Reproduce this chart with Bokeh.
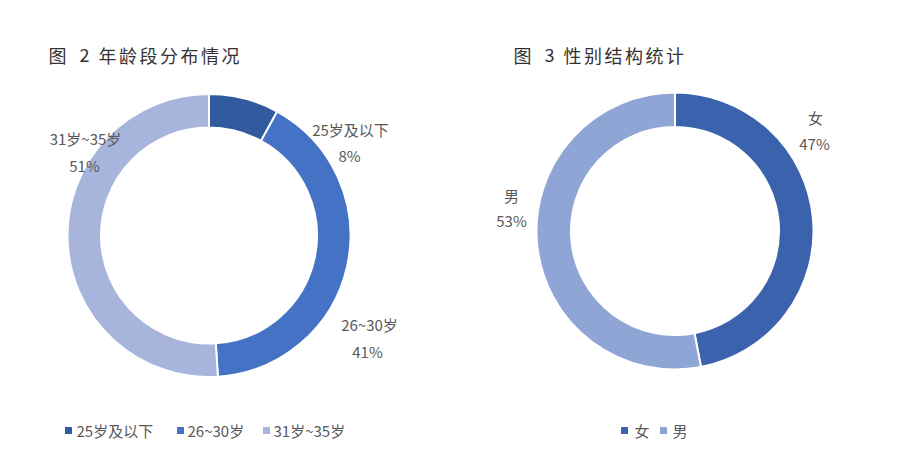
import math
from bokeh.plotting import figure
from bokeh.models import Range1d, ColumnDataSource
from bokeh.core.properties import value
from bokeh.embed import file_html
from bokeh.resources import INLINE

# ---- data ----
age_title = ["图", "2", "年龄段分布情况"]
gender_title = ["图", "3", "性别结构统计"]
age_labels = ["25岁及以下", "26~30岁", "31岁~35岁"]
age_share = [8, 41, 51]
gender_labels = ["女", "男"]
gender_share = [47, 53]

age_colors = ["#325a9e", "#4472c4", "#a7b5dc"]
gender_colors = ["#3b62ad", "#8fa5d6"]

W, H = 895, 468
FONT = "Noto Sans CJK SC"
LABEL_COLOR = "#595959"

def X(px):
    return px

def Y(py):
    return H - py

p = figure(width=W, height=H, output_backend="svg", toolbar_location=None,
           x_range=Range1d(0, W), y_range=Range1d(0, H), min_border=0)
p.axis.visible = False
p.grid.visible = False
p.outline_line_color = None

def donut(cx, cy, r_in, r_out, shares, colors):
    total = float(sum(shares))
    starts, ends = [], []
    cum = 0.0
    for s in shares:
        starts.append(math.pi / 2 - 2 * math.pi * cum / total)
        cum += s
        ends.append(math.pi / 2 - 2 * math.pi * cum / total)
    src = ColumnDataSource(dict(x=[X(cx)] * len(shares), y=[Y(cy)] * len(shares),
                                start=starts, end=ends, color=colors))
    p.annular_wedge(x="x", y="y", inner_radius=r_in, outer_radius=r_out,
                    start_angle="start", end_angle="end", direction="clock",
                    fill_color="color", line_color="white", line_width=2, source=src)

donut(208.5, 235, 108, 141.5, age_share, age_colors)
donut(674.5, 230.5, 104, 138.5, gender_share, gender_colors)

def txt(px, py, s, size="15px", color=LABEL_COLOR, align="center"):
    p.text(x=[X(px)], y=[Y(py)], text=[s], text_font=value(FONT),
           text_font_size=size, text_color=color, text_align=align,
           text_baseline="middle")

# titles, drawn with spaced characters
def title(x0, parts):
    fig_word, num, rest = parts
    txt(x0, 54, fig_word, size="18px", color="#333333", align="left")
    txt(x0 + 31, 54, num, size="18px", color="#333333", align="left")
    for i, ch in enumerate(rest):
        txt(x0 + 50 + 20.5 * i, 54, ch, size="18px", color="#333333", align="left")

title(48, age_title)
title(513, gender_title)

# data labels (left donut)
age_label_pos = [(350, 129, 349, 155), (369, 324, 367, 351), (85, 138, 84, 165)]
for lab, sh, (lx, ly, px_, py_) in zip(age_labels, age_share, age_label_pos):
    txt(lx, ly, lab)
    txt(px_, py_, f"{sh}%")

gender_label_pos = [(815, 117, 814, 143), (511, 195, 511, 220)]
for lab, sh, (lx, ly, px_, py_) in zip(gender_labels, gender_share, gender_label_pos):
    txt(lx, ly, lab)
    txt(px_, py_, f"{sh}%")

# legends
def legend(items, colors, sq_x, txt_x, py):
    for lab, c, sx, tx in zip(items, colors, sq_x, txt_x):
        p.rect(x=[X(sx + 3)], y=[Y(py)], width=7, height=7, fill_color=c, line_color=None)
        txt(tx, py, lab, align="left")

legend(age_labels, age_colors, [65, 177, 263], [76, 187, 273], 430)
legend(gender_labels, gender_colors, [621, 660], [634, 672], 430)

open("out.html", "w").write(file_html(p, INLINE))
